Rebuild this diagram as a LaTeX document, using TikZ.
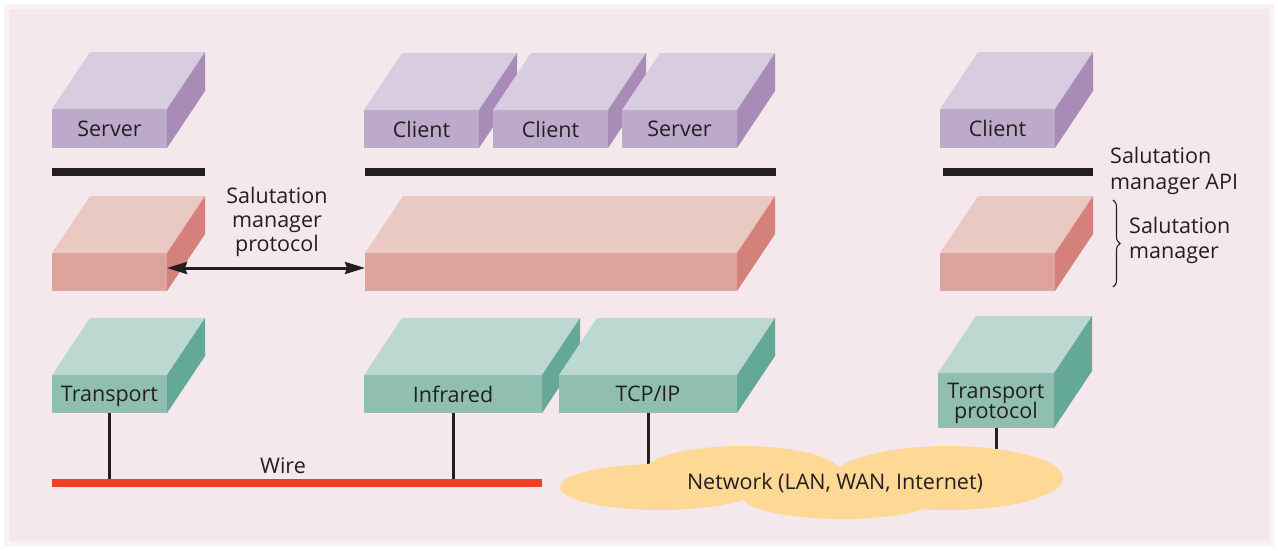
\documentclass[tikz,border=0pt]{standalone}
\usepackage{fontspec}
\setmainfont{Open Sans}
\usetikzlibrary{arrows.meta,decorations.pathreplacing}
\definecolor{bgpink}{HTML}{F4E8EC}
\definecolor{txt}{HTML}{231F20}
\definecolor{purtop}{HTML}{D8CCE0}
\definecolor{purfront}{HTML}{BDA9CA}
\definecolor{purside}{HTML}{A98BB7}
\definecolor{pnktop}{HTML}{EBC9C3}
\definecolor{pnkfront}{HTML}{DEA39D}
\definecolor{pnkside}{HTML}{D4807B}
\definecolor{grntop}{HTML}{BDD8D0}
\definecolor{grnfront}{HTML}{90BFB2}
\definecolor{grnside}{HTML}{64A898}
\definecolor{cloudc}{HTML}{FDD995}
\definecolor{wirec}{HTML}{EE4023}
\newcommand\myslab[7]{%
  \node[slab, fill=#6front, minimum width={(#4)-(#2)}, minimum height={(#5)-(#3)}] (#1) at ({((#2)+(#4))/2},{((#3)+(#5))/2}) {#7};
  \fill[#6top] (#1.north west) -- ++(38,-57) -- ++({(#4)-(#2)},0) -- (#1.north east) -- cycle;
  \fill[#6side] (#1.north east) -- ++(38,-57) -- ++(0,{(#5)-(#3)}) -- (#1.south east) -- cycle;
}
\tikzset{
  lbl/.style={font=\fontsize{21.5}{24}\selectfont, text=txt, align=center, inner sep=0pt},
  slab/.style={lbl, rectangle, inner sep=0pt, outer sep=0pt, text depth=0pt},
  apibar/.style={fill=txt, rectangle, inner sep=0pt, outer sep=0pt, minimum height=8},
  conn/.style={draw=txt, line width=3pt},
}
\begin{document}
\begin{tikzpicture}[x=1pt,y=-1pt]
\useasboundingbox (0,0) rectangle (1278,550);
\fill[white] (0,0) rectangle (1278,550);
\fill[bgpink!55] (4,4) rectangle (1274,546);
\fill[bgpink] (9,9) rectangle (1269,541);

% top row (applications)
\myslab{srvA}{52}{109}{167}{148}{pur}{Server}
\myslab{cliA}{364}{110}{479}{148}{pur}{Client}
\myslab{cliB}{493}{110}{608}{148}{pur}{Client}
\myslab{srvB}{622}{110}{737}{148}{pur}{Server}
\myslab{cliC}{940}{109}{1055}{148}{pur}{Client}

% API bars
\node[apibar, minimum width=153] (barA) at (128.5,172) {};
\node[apibar, minimum width=411] (barB) at (570.5,172) {};
\node[apibar, minimum width=150] (barC) at (1018,172) {};
\node[lbl, align=left, anchor=west, font=\fontsize{21.5}{26}\selectfont] (apitxt) at (1110,171) {Salutation\\manager API};

% salutation managers
\myslab{smA}{52}{253}{167}{291}{pnk}{}
\myslab{smB}{365}{253}{737}{291}{pnk}{}
\myslab{smC}{940}{253}{1055}{291}{pnk}{}
\draw[conn, {Stealth[length=20pt,width=12pt,inset=2pt]}-{Stealth[length=20pt,width=12pt,inset=2pt]}]
  ([yshift=4pt]smA.east) -- ([yshift=4pt]smB.west);
\node[lbl] (prot) at (277,222) {Salutation\\manager\\protocol};
\draw[txt, line width=1.1pt, decorate, decoration={brace, amplitude=7pt}]
  (1113,200) -- (1113,287);
\node[lbl, align=left, anchor=west, font=\fontsize{21.5}{25}\selectfont] (smtxt) at (1129,240) {Salutation\\manager};

% transports
\myslab{trA}{52}{375}{167}{413}{grn}{Transport}
\myslab{ir}{364}{375}{542}{413}{grn}{Infrared}
\myslab{tcp}{559}{375}{737}{413}{grn}{TCP/IP}
\myslab{trC}{938}{373}{1054}{428}{grn}{Transport\\[-4pt]protocol}

% wire
\node[rectangle, fill=wirec, inner sep=0pt, outer sep=0pt, minimum width=490, minimum height=8] (wire) at (297,483) {};
\node[lbl] (wiretxt) at (283,466) {Wire};
\draw[conn] (trA.south) -- (trA.south |- wire.north);
\draw[conn] (ir.south) -- (ir.south |- wire.north);

% network cloud
\coordinate (netc) at (835,483);
\draw[conn] (tcp.south) -- (tcp.south |- netc);
\draw[conn] (trC.south) -- (trC.south |- netc);
\fill[cloudc] (660,487) ellipse [x radius=100, y radius=23];
\fill[cloudc] (742,472) ellipse [x radius=98, y radius=26];
\fill[cloudc] (948,478) ellipse [x radius=115, y radius=32];
\fill[cloudc] (842,496) ellipse [x radius=100, y radius=23];
\node[lbl] (net) at (netc) {Network (LAN, WAN, Internet)};
\end{tikzpicture}
\end{document}
